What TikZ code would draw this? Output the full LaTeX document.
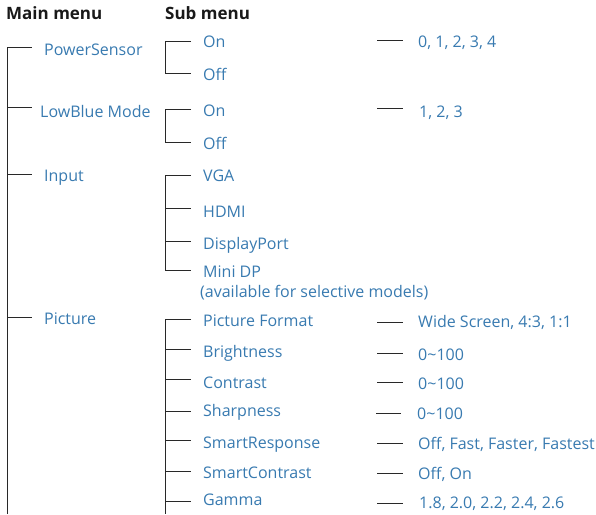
\documentclass[tikz,border=0pt]{standalone}
\usepackage{fontspec}
\setmainfont{Open Sans}
\definecolor{menublue}{RGB}{56,122,176}
\definecolor{linegray}{RGB}{40,40,40}
\tikzset{
  x=1pt, y=-1pt,
  item/.style={anchor=base west, inner sep=0pt, text=menublue, font=\fontsize{16}{19}\selectfont},
  head/.style={anchor=base west, inner sep=0pt, text=black!90, font=\fontsize{17}{20}\selectfont\bfseries},
  tree/.style={draw=linegray, line width=0.85pt},
}
\begin{document}
\begin{tikzpicture}
\useasboundingbox (0,0) rectangle (596,514);
% headers
\node[head] (hmain) at (6,19) {Main menu};
\node[head] (hsub) at (165,19) {Sub menu};
% main items
\node[item] (ps) at (44,55) {PowerSensor};
\node[item] (lb) at (40,117) {LowBlue Mode};
\node[item] (inp) at (44,181) {Input};
\node[item] (pic) at (44,324) {Picture};
% main tree
\coordinate (mtop) at (7,47);
\coordinate (mbot) at (7,514);
\coordinate (mps) at (32,47);
\coordinate (mlb) at (32,107);
\coordinate (minp) at (32,174);
\coordinate (mpic) at (32,317);
\draw[tree] (mbot) -- (mtop) -- (mps);
\draw[tree] (7,107) -- (mlb);
\draw[tree] (7,174) -- (minp);
\draw[tree] (7,317) -- (mpic);
% PowerSensor sub
\node[item] (pson) at (203,47) {On};
\node[item] (psoff) at (203,80) {Off};
\coordinate (s1a) at (191,41);
\coordinate (s1b) at (191,73);
\draw[tree] (s1a) -| (165,73) -- (s1b);
\node[item] (psv) at (418,47) {0, 1, 2, 3, 4};
\coordinate (d1a) at (377,40); \coordinate (d1b) at (403,40);
\draw[tree] (d1a) -- (d1b);
% LowBlue sub
\node[item] (lbon) at (203,116) {On};
\node[item] (lboff) at (203,149) {Off};
\coordinate (s2a) at (191,109);
\coordinate (s2b) at (191,142);
\draw[tree] (s2a) -| (165,142) -- (s2b);
\node[item] (lbv) at (419,117) {1, 2, 3};
\coordinate (d2a) at (377,108); \coordinate (d2b) at (403,108);
\draw[tree] (d2a) -- (d2b);
% Input sub
\node[item] (vga) at (203,181) {VGA};
\node[item] (hdmi) at (203,217) {HDMI};
\node[item] (dp) at (203,249) {DisplayPort};
\node[item] (mdp) at (203,277) {Mini DP};
\node[item] (avail) at (200,297) {(available for selective models)};
\coordinate (s3a) at (191,175);
\coordinate (s3b) at (191,208);
\coordinate (s3c) at (191,241);
\coordinate (s3d) at (191,270);
\draw[tree] (s3a) -| (165,270) -- (s3d);
\draw[tree] (165,208) -- (s3b);
\draw[tree] (165,241) -- (s3c);
% Picture sub
\node[item] (pf) at (203,326) {Picture Format};
\node[item] (br) at (203,357) {Brightness};
\node[item] (co) at (203,388) {Contrast};
\node[item] (sh) at (203,416) {Sharpness};
\node[item] (sr) at (203,448) {SmartResponse};
\node[item] (sc) at (203,478) {SmartContrast};
\node[item] (ga) at (203,505) {Gamma};
\coordinate (p1) at (191,319);
\coordinate (p2) at (191,349);
\coordinate (p3) at (191,379);
\coordinate (p4) at (191,411);
\coordinate (p5) at (191,440);
\coordinate (p6) at (191,471);
\coordinate (p7) at (191,501);
\coordinate (pbot) at (165,514);
\draw[tree] (p1) -| (pbot);
\foreach \p/\yy in {p2/349,p3/379,p4/411,p5/440,p6/471,p7/501}
  \draw[tree] (165,\yy) -- (\p);
% values
\node[item] (pfv) at (418,327) {Wide Screen, 4:3, 1:1};
\node[item] (brv) at (418,360) {0\char`\~100};
\node[item] (cov) at (418,389) {0\char`\~100};
\node[item] (shv) at (417,419) {0\char`\~100};
\node[item] (srv) at (418,449) {Off, Fast, Faster, Fastest};
\node[item] (scv) at (418,479) {Off, On};
\node[item] (gav) at (419,508) {1.8, 2.0, 2.2, 2.4, 2.6};
\foreach \n/\xa/\xb/\yy in {a/377/403/322,b/377/403/353,c/377/403/382,d/376/401/413,e/377/403/443,f/377/403/473,g/377/403/503}{
  \coordinate (v\n1) at (\xa,\yy); \coordinate (v\n2) at (\xb,\yy);
  \draw[tree] (v\n1) -- (v\n2);
}
\end{tikzpicture}
\end{document}
